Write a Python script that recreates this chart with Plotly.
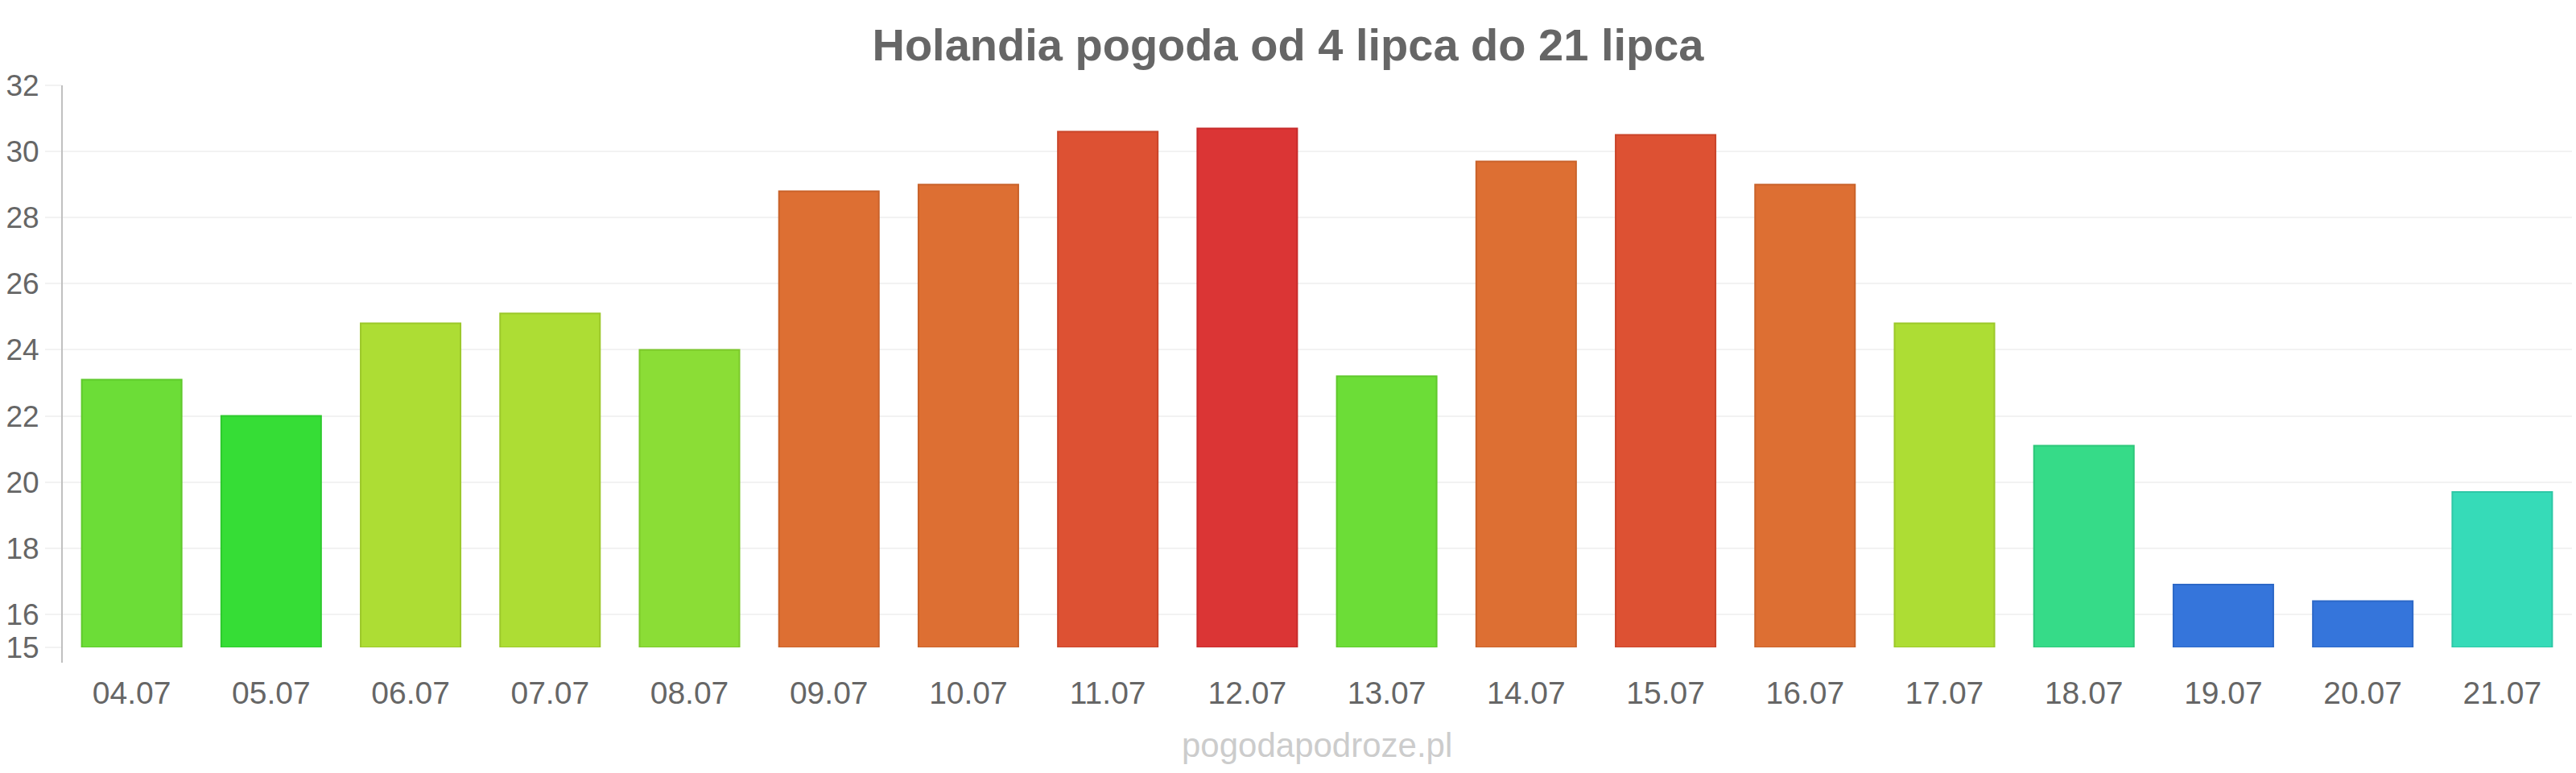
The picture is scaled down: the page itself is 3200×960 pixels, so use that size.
import plotly.graph_objects as go

# ---- data ----
dates = ["04.07", "05.07", "06.07", "07.07", "08.07", "09.07", "10.07", "11.07", "12.07",
         "13.07", "14.07", "15.07", "16.07", "17.07", "18.07", "19.07", "20.07", "21.07"]
temps = [23.1, 22.0, 24.8, 25.1, 24.0, 28.8, 29.0, 30.6, 30.7,
         23.2, 29.7, 30.5, 29.0, 24.8, 21.1, 16.9, 16.4, 19.7]
y_ticks = [15, 16, 18, 20, 22, 24, 26, 28, 30, 32]
y_min = 15

title_text = "Holandia pogoda od 4 lipca do 21 lipca"
watermark = "pogodapodroze.pl"

# ---- styles ----
fill_colors = ["#6cdd37", "#36dd36", "#addd34", "#addd34", "#8bdd36", "#dd6f33", "#dd6f33",
               "#dd5133", "#db3535", "#6cdd37", "#dd6f33", "#dd5133", "#dd6f33", "#addd34",
               "#36db88", "#3575db", "#3575db", "#36dbb8"]
line_colors = ["#5fc92c", "#2dc92d", "#9cc82a", "#9cc82a", "#7cc82b", "#c9622a", "#c9622a",
               "#c9452a", "#c72c2c", "#5fc92c", "#c9622a", "#c9452a", "#c9622a", "#9cc82a",
               "#2dc77a", "#2c68c7", "#2c68c7", "#2dc7a6"]

FONT = "Liberation Sans, Arial, sans-serif"
W, H = 3200, 960
L, R, T, B = 77, 5, 106, 156

fig = go.Figure()
fig.add_trace(go.Bar(
    x=dates,
    y=[t - y_min for t in temps],
    base=y_min,
    marker=dict(color=fill_colors, line=dict(color=line_colors, width=2)),
))

fig.update_layout(
    width=W, height=H,
    margin=dict(l=L, r=R, t=T, b=B, pad=0),
    paper_bgcolor="white", plot_bgcolor="white",
    bargap=0.284,
    showlegend=False,
    font=dict(family=FONT, color="#666666"),
    title=dict(text=title_text, x=0.5, xref="container", xanchor="center",
               y=1 - 55 / H, yref="container", yanchor="middle",
               font=dict(family=FONT, size=56, color="#666666", weight="bold")),
)

fig.update_yaxes(
    range=[15, 32], tickvals=y_ticks, ticktext=[str(v) for v in y_ticks],
    showgrid=True, gridcolor="#f2f2f2", gridwidth=2,
    zeroline=False, showline=False,
    ticks="outside", ticklen=20, tickcolor="#f2f2f2", tickwidth=2,
    tickfont=dict(family=FONT, size=37, color="#666666"),
    fixedrange=True,
)
fig.update_xaxes(
    showgrid=False, zeroline=False, showline=False,
    ticks="outside", ticklen=22, tickcolor="rgba(0,0,0,0)",
    tickfont=dict(family=FONT, size=39, color="#666666"),
)

# y axis line extending slightly below the plot (chart.js style)
fig.add_shape(type="line", xref="paper", yref="paper",
              x0=0, x1=0, y0=-19 / (H - T - B), y1=1,
              line=dict(color="#c0c0c0", width=2))

fig.add_annotation(text=watermark, xref="paper", yref="paper",
                   x=0.5, y=(804 - 925) / (H - T - B), xanchor="center", yanchor="middle",
                   showarrow=False, font=dict(family=FONT, size=42, color="#cccccc"))

fig.write_html("out.html")
